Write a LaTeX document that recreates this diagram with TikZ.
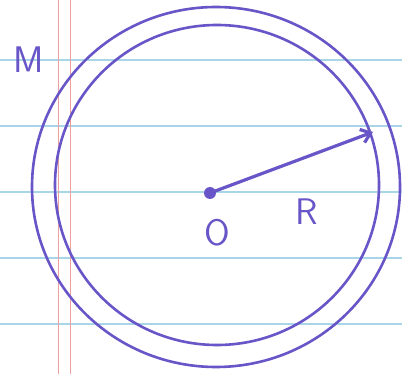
\documentclass[tikz,border=0pt]{standalone}
\usetikzlibrary{arrows.meta}
\definecolor{ink}{RGB}{104,86,200}
\definecolor{rule}{RGB}{168,214,232}
\definecolor{margin}{RGB}{238,160,160}
\begin{document}
\begin{tikzpicture}[x=1pt,y=-1pt,
  ruleline/.style={rule,line width=1.3pt},
  marginline/.style={margin,line width=1pt},
  inkline/.style={ink,line width=2.6pt},
  label/.style={ink,font=\sffamily\fontsize{37}{37}\selectfont,inner sep=0pt}]
\useasboundingbox[fill=white] (0,0) rectangle (402,374);
% ruled paper
\foreach \y in {60,126,192,258,324} \draw[ruleline] (0,\y) -- (402,\y);
\draw[marginline] (58,0) -- (58,374);
\draw[marginline] (70,0) -- (70,374);
% circles
\draw[inkline] (216,187) ellipse [x radius=184, y radius=180];
\draw[inkline] (217,185) ellipse [x radius=162, y radius=160];
% centre and radius
\node[circle,fill=ink,inner sep=0pt,minimum size=12pt] (o) at (210,193) {};
\coordinate (rim) at (373,132);
\draw[ink,line width=3.2pt,-{Straight Barb[length=9pt,width=14pt]}] (o.center) -- (rim);
\node[label] (olab) at (217,233) {O};
\node[label] (rlab) at (307,212) {R};
\node[label] (mlab) at (29,60) {M};
\end{tikzpicture}
\end{document}
